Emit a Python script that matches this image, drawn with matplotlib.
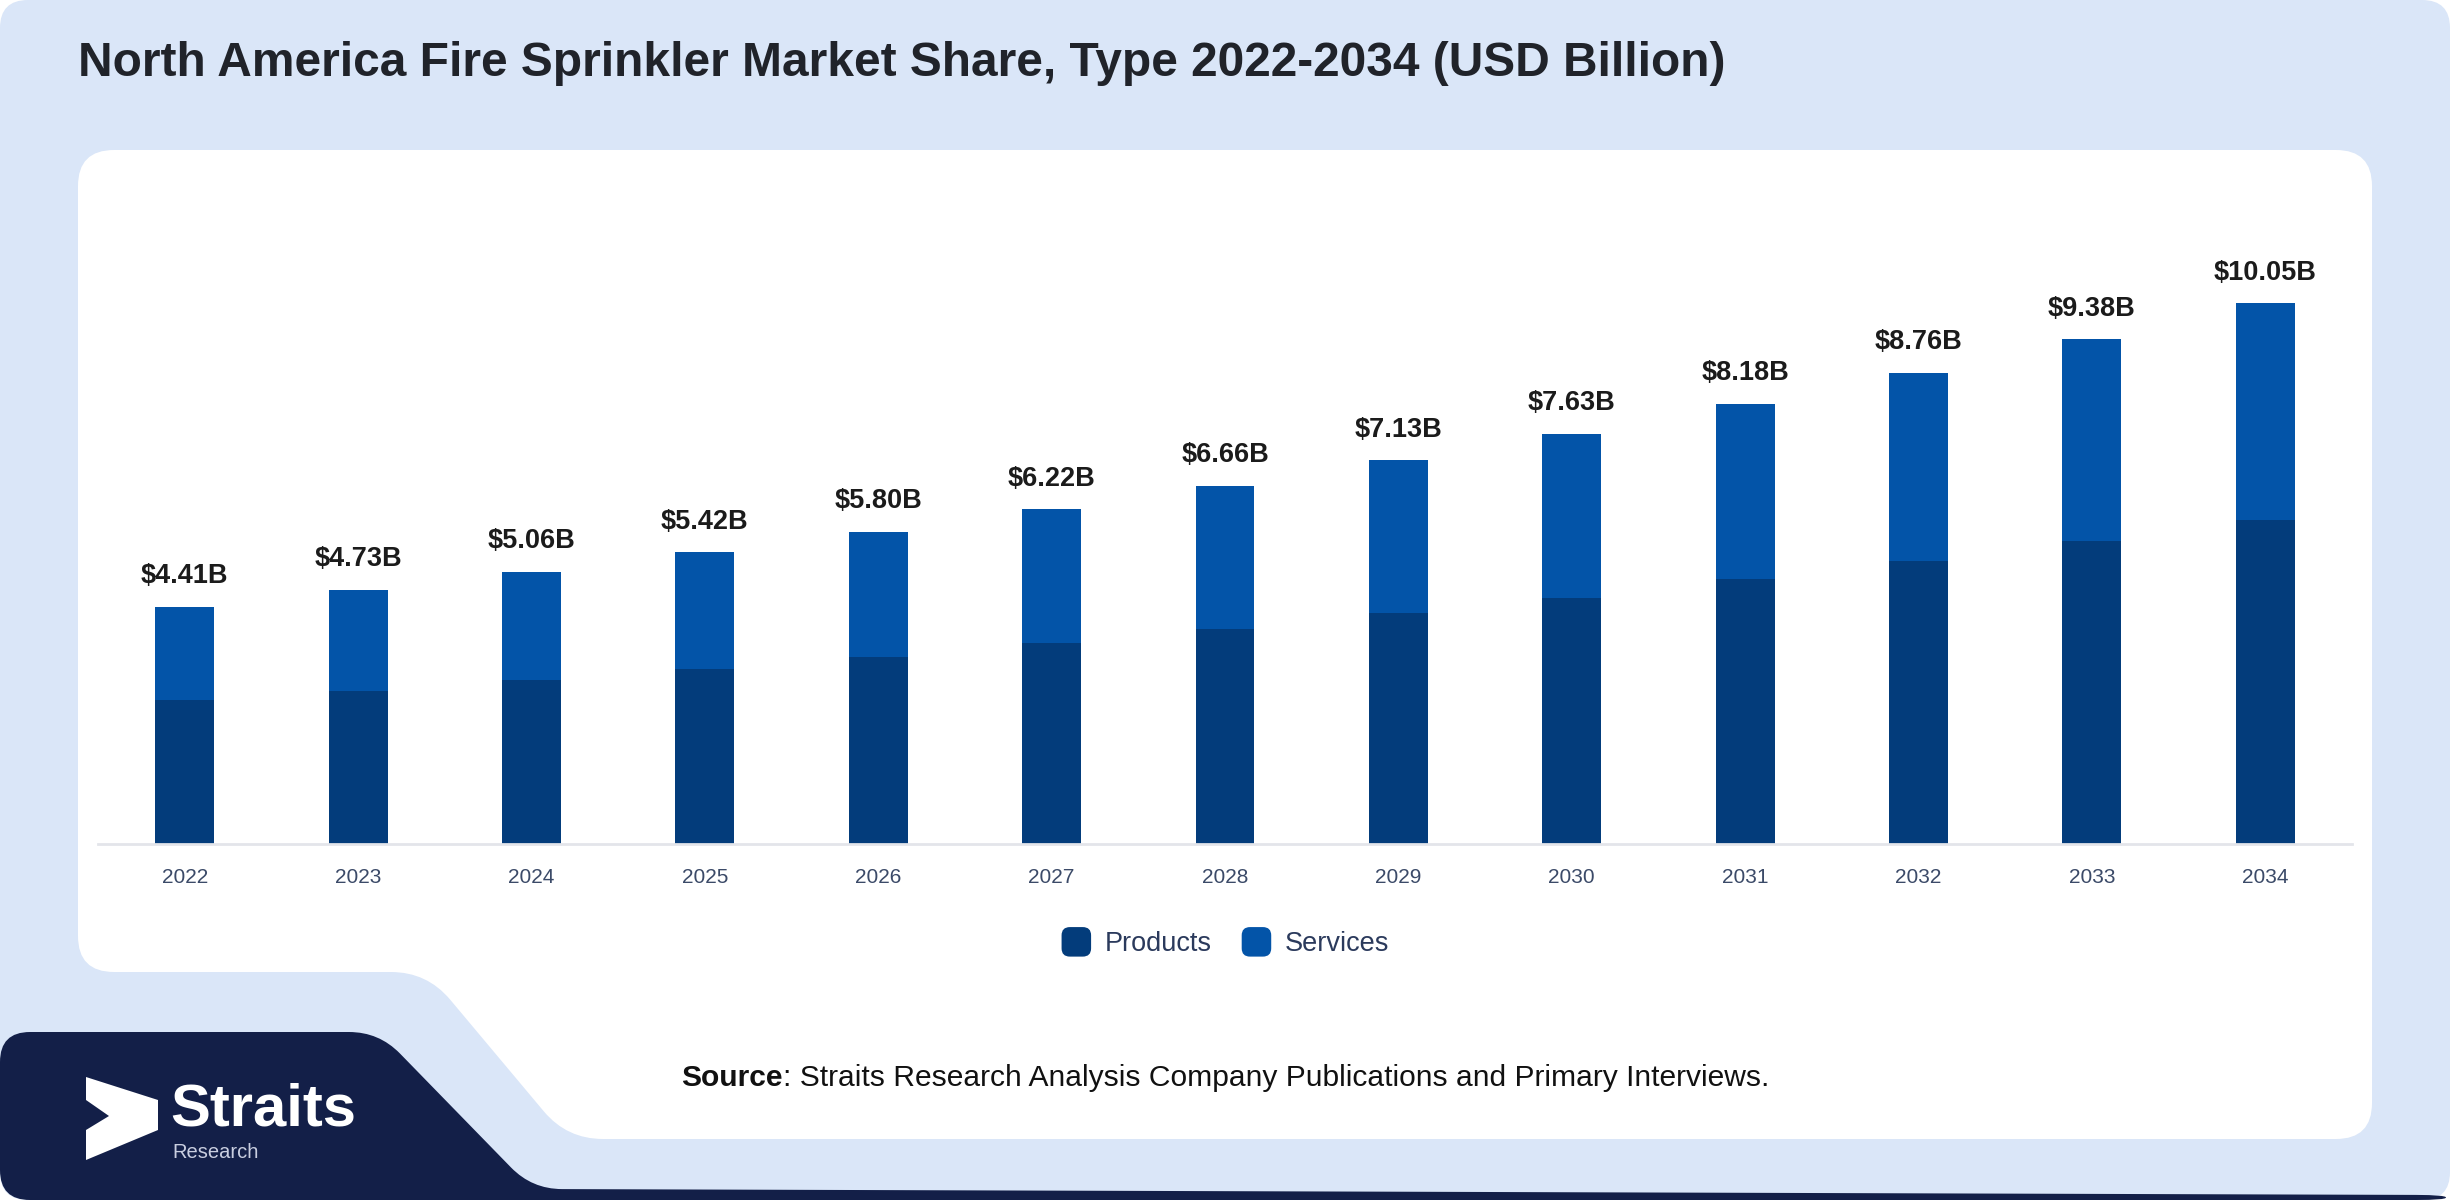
import numpy as np
import matplotlib
matplotlib.use('Agg')
import matplotlib.pyplot as plt
from matplotlib.path import Path
from matplotlib.patches import PathPatch, FancyBboxPatch, Patch
from matplotlib.legend_handler import HandlerPatch

YEARS = ['2022', '2023', '2024', '2025', '2026', '2027', '2028',
         '2029', '2030', '2031', '2032', '2033', '2034']
TOTALS = [4.41, 4.73, 5.06, 5.42, 5.80, 6.22, 6.66, 7.13, 7.63, 8.18, 8.76, 9.38, 10.05]
PRODUCTS = [2.67, 2.84, 3.04, 3.25, 3.48, 3.73, 4.00, 4.29, 4.58, 4.92, 5.26, 5.63, 6.02]
SERVICES = [1.74, 1.89, 2.02, 2.17, 2.32, 2.49, 2.66, 2.84, 3.05, 3.26, 3.50, 3.75, 4.03]
SERIES = ['Products', 'Services']

TITLE = 'North America Fire Sprinkler Market Share, Type 2022-2034 (USD Billion)'
SOURCE_BOLD = 'Source'
SOURCE_REST = ': Straits Research Analysis Company Publications and Primary Interviews.'

C_PROD = '#033c7b'
C_SERV = '#0354a8'
C_BG = '#dae6f8'
C_NAVY = '#131f48'

W, H = 2450, 1200

plt.rcParams['font.family'] = ['Liberation Sans', 'DejaVu Sans']


def rounded_path(pts, r):
    # polygon with each corner softened by a quadratic curve
    pts = [np.array(p, float) for p in pts]
    n = len(pts)
    verts, codes = [], []
    for i in range(n):
        p0, p1, p2 = pts[i - 1], pts[i], pts[(i + 1) % n]
        d0 = (p0 - p1) / np.linalg.norm(p0 - p1)
        d2 = (p2 - p1) / np.linalg.norm(p2 - p1)
        a = p1 + d0 * min(r, np.linalg.norm(p0 - p1) / 2)
        b = p1 + d2 * min(r, np.linalg.norm(p2 - p1) / 2)
        verts += [a, p1, b]
        codes += [Path.MOVETO if i == 0 else Path.LINETO, Path.CURVE3, Path.CURVE3]
    verts.append(verts[0])
    codes.append(Path.CLOSEPOLY)
    return Path(verts, codes)


class RoundHandler(HandlerPatch):
    def create_artists(self, legend, orig_handle, xdescent, ydescent, width, height, fontsize, trans):
        s = min(width, height)
        p = FancyBboxPatch((xdescent + (width - s) / 2, -ydescent + (height - s) / 2), s, s,
                           boxstyle='round,pad=0,rounding_size=%f' % (s * 0.28),
                           facecolor=orig_handle.get_facecolor(), edgecolor='none',
                           transform=trans)
        return [p]


fig = plt.figure(figsize=(W / 100, H / 100), dpi=100)
fig.patch.set_facecolor('white')

bg = fig.add_axes([0, 0, 1, 1])
bg.set_xlim(0, W)
bg.set_ylim(H, 0)
bg.axis('off')

bg.add_patch(PathPatch(rounded_path([(0, 0), (W, 0), (W, H), (0, H)], 28),
                       facecolor=C_BG, edgecolor='none'))
# white card with the cut-out at bottom left
bg.add_patch(PathPatch(rounded_path([(78, 150), (2372, 150), (2372, 1139), (567, 1139),
                                     (427, 972), (78, 972)], 36),
                       facecolor='white', edgecolor='none'))
# navy footer block
bg.add_patch(PathPatch(rounded_path([(0, 1032), (379, 1032), (532, 1189), (2446, 1195),
                                     (2446, 1200), (0, 1200)], 30),
                       facecolor=C_NAVY, edgecolor='none'))

# logo
arrow = [(86, 1077), (158, 1100), (158, 1130), (86, 1160), (86, 1130), (109, 1116), (86, 1100)]
bg.add_patch(plt.Polygon(arrow, closed=True, facecolor='white', edgecolor='none'))
bg.text(170, 1125, 'Straits', color='white', fontsize=43, fontweight='bold',
        ha='left', va='baseline')
bg.text(172, 1158, 'Research', color='#c9cee0', fontsize=14.5, ha='left', va='baseline')

# title
bg.text(78, 64, TITLE, color='#20232a', fontweight='bold', fontsize=34.5,
        ha='left', va='center')

# source line, bold lead-in followed by regular text
fig.canvas.draw()
renderer = fig.canvas.get_renderer()
t1 = bg.text(0, 1078, SOURCE_BOLD, fontsize=21.6, fontweight='bold', color='#111111',
             ha='left', va='center')
t2 = bg.text(0, 1078, SOURCE_REST, fontsize=21.6, color='#111111', ha='left', va='center')
w1 = t1.get_window_extent(renderer).width
w2 = t2.get_window_extent(renderer).width
x0 = 1225 - (w1 + w2) / 2
t1.set_x(x0)
t2.set_x(x0 + w1)

# chart
ax = fig.add_axes([98 / W, (H - 844) / H, 2254 / W, (844 - 250) / H])
ax.set_facecolor('none')
x = np.arange(len(YEARS))
bw = 0.34
ax.bar(x, PRODUCTS, bw, color=C_PROD, label=SERIES[0], zorder=2)
ax.bar(x, SERVICES, bw, bottom=PRODUCTS, color=C_SERV, label=SERIES[1], zorder=2)

for xi, tot in zip(x, TOTALS):
    ax.annotate(f'${tot:.2f}B', (xi, tot), xytext=(0, 22), textcoords='offset points',
                ha='center', va='center', fontsize=19.5, fontweight='bold', color='#1b1b1b')

ax.set_xlim(-0.5, len(YEARS) - 0.5)
ax.set_ylim(0, 594 / 53.8)
ax.set_xticks(x)
ax.set_xticklabels(YEARS, fontsize=15, color='#3b4a68')
ax.tick_params(axis='x', length=0, pad=17.5)
ax.set_yticks([])
for side in ['top', 'right', 'left']:
    ax.spines[side].set_visible(False)
ax.spines['bottom'].set_color('#e3e5ea')
ax.spines['bottom'].set_linewidth(2)

handles = [Patch(facecolor=C_PROD), Patch(facecolor=C_SERV)]
fig.legend(handles, SERIES, loc='center', bbox_to_anchor=(1224 / W, 1 - 942 / H), ncol=2,
           frameon=False, fontsize=19.5, handlelength=1.3, handleheight=1.3,
           handletextpad=0.4, columnspacing=1.0, labelcolor='#2b3a5c',
           handler_map={Patch: RoundHandler()})

fig.savefig('out.png', dpi=100, facecolor=fig.get_facecolor())
